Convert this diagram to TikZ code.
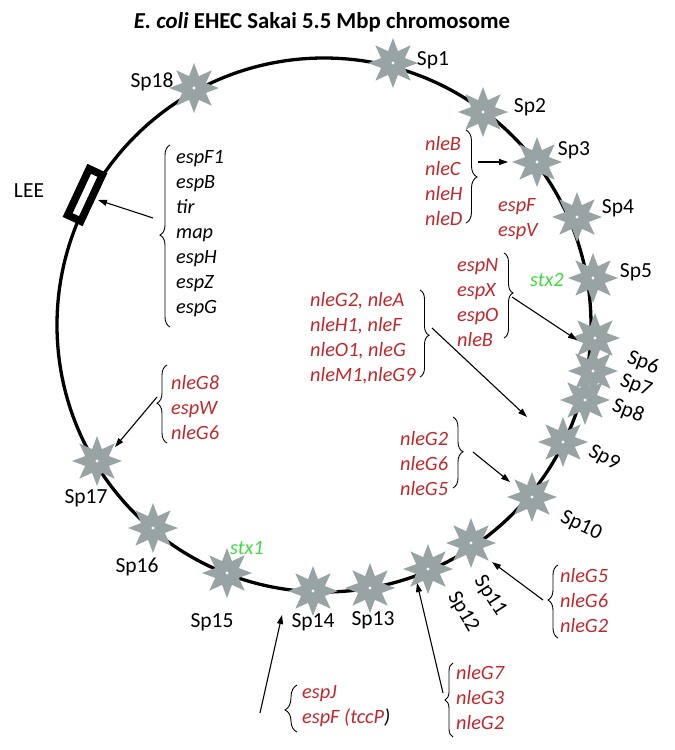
\documentclass[tikz,border=0pt]{standalone}
\usepackage{fontspec}
\setmainfont{Carlito}
\usetikzlibrary{shapes.geometric,decorations.pathreplacing,arrows.meta}
\definecolor{stargray}{RGB}{152,164,164}
\definecolor{genered}{RGB}{192,39,45}
\definecolor{stxgreen}{RGB}{60,220,60}
\begin{document}
\begin{tikzpicture}[x=1pt,y=-1pt,
  spstar/.style={star, star points=8, star point ratio=1.95, minimum size=50pt, inner sep=0pt, fill=stargray, draw=none},
  splabel/.style={font=\fontsize{21.5}{25}\selectfont, inner sep=0pt},
  genes/.style={font=\fontsize{20.3}{25}\selectfont\itshape, align=left, inner sep=0pt, anchor=west},
  redgenes/.style={genes, text=genered},
  stxlabel/.style={font=\fontsize{20.3}{25}\selectfont\itshape, text=stxgreen, inner sep=0pt},
  gbrace/.style={decorate, decoration={brace, amplitude=10pt, aspect=#1}, line width=0.9pt},
  gbrace/.default=0.5,
  garrow/.style={-{Triangle[length=9pt,width=6pt]}, line width=1.1pt},
  leebox/.style={draw, fill=white, line width=7.5pt, minimum width=14.5pt, minimum height=51pt, inner sep=0pt},
]
\useasboundingbox (0,0) rectangle (675,750);
% title
\node[font=\fontsize{22.8}{26}\selectfont\bfseries] (title) at (322,22) {\textit{E. coli} EHEC Sakai 5.5 Mbp chromosome};
% chromosome
\draw[line width=3.3pt] (324,325) circle[radius=267pt];
% LEE box
\node[leebox, rotate=-25] (lee) at (85,195) {};
\node[splabel] (leelabel) at (29,191) {LEE};
% stars
\foreach \n/\x/\y in {1/393/63, 2/483/112, 3/537/162, 4/577/217, 5/593/278, 6/595/338, 7/593/371, 8/585/400, 9/563/442, 10/532/497, 11/471/543, 12/428/569, 13/370/588, 14/313/591, 15/227/573, 16/153/528, 17/97/461, 18/194/88}{
  \node[spstar] (sp\n) at (\x,\y) {};
  \fill[white] (sp\n) circle[radius=1.6pt];
}
% star labels
\node[splabel] (l1) at (433,60) {Sp1};
\node[splabel] (l2) at (530,107) {Sp2};
\node[splabel] (l3) at (574,150) {Sp3};
\node[splabel] (l4) at (618,208) {Sp4};
\node[splabel] (l5) at (636,272) {Sp5};
\node[splabel, rotate=-21] (l6) at (643,363) {Sp6};
\node[splabel, rotate=-21] (l7) at (636,386) {Sp7};
\node[splabel, rotate=-21] (l8) at (628,411) {Sp8};
\node[splabel, rotate=-28] (l9) at (604,458) {Sp9};
\node[splabel, rotate=-25] (l10) at (581,526) {Sp10};
\node[splabel, rotate=-57] (l11) at (490,596) {Sp11};
\node[splabel, rotate=-60] (l12) at (463,612) {Sp12};
\node[splabel] (l13) at (373,620) {Sp13};
\node[splabel] (l14) at (313,622) {Sp14};
\node[splabel] (l15) at (212,622) {Sp15};
\node[splabel] (l16) at (137,567) {Sp16};
\node[splabel] (l17) at (86,498) {Sp17};
\node[splabel] (l18) at (152,82) {Sp18};
% green labels
\node[stxlabel] (stx2) at (547,280) {stx2};
\node[stxlabel] (stx1) at (247,548) {stx1};
% gene groups
\node[genes] (gA) at (176,234) {espF1\\espB\\tir\\map\\espH\\espZ\\espG};
\node[redgenes] (gB) at (425,181) {nleB\\nleC\\nleH\\nleD};
\node[redgenes] (gBb) at (498,219.5) {espF\\espV};
\node[redgenes] (gC) at (457,302.5) {espN\\espX\\espO\\nleB};
\node[redgenes] (gD) at (310,338.5) {nleG2, nleA\\nleH1, nleF\\nleO1, nleG\\nleM1,nleG9};
\node[redgenes] (gE) at (400,463.5) {nleG2\\nleG6\\nleG5};
\node[redgenes] (gF) at (171,408) {nleG8\\espW\\nleG6};
\node[redgenes] (gG) at (560,601) {nleG5\\nleG6\\nleG2};
\node[redgenes] (gH) at (456,697.5) {nleG7\\nleG3\\nleG2};
\node[redgenes] (gI) at (302,706.5) {espJ\\espF (tccP\textcolor{black}{)}};
% braces
\draw[gbrace=0.505] (170,327) -- (170,145);
\draw[gbrace=0.505, decoration={amplitude=11pt}] (466,130) -- (466,223);
\draw[gbrace=0.47, decoration={amplitude=9pt}] (504,253) -- (504,338);
\draw[gbrace=0.52, decoration={amplitude=9pt}] (420,290) -- (420,377);
\draw[gbrace=0.49] (453,417) -- (453,488);
\draw[gbrace=0.51] (167,443) -- (167,365);
\draw[gbrace=0.52] (558,638) -- (558,565);
\draw[gbrace=0.5, decoration={amplitude=8pt}] (453,737) -- (453,663);
\draw[gbrace=0.47, decoration={amplitude=12pt}] (297,732) -- (297,685);
% arrow end points
\coordinate (aA) at (153,218); \coordinate (eA) at (98,200);
\coordinate (aB) at (478,162); \coordinate (eB) at (508,162);
\coordinate (aC) at (512,297); \coordinate (eC) at (577,340);
\coordinate (aD) at (432,328); \coordinate (eD) at (527,417);
\coordinate (aE) at (473,452); \coordinate (eE) at (510,482);
\coordinate (aF) at (157,397); \coordinate (eF) at (115,447);
\coordinate (aG) at (543,600); \coordinate (eG) at (492,562);
\coordinate (aH) at (443,693); \coordinate (eH) at (417,583);
\coordinate (aI) at (260,713); \coordinate (eI) at (282,615);
\foreach \g in {A,B,C,D,E,F,G,H,I}{
  \draw[garrow] (a\g) -- (e\g);
}
\end{tikzpicture}
\end{document}
